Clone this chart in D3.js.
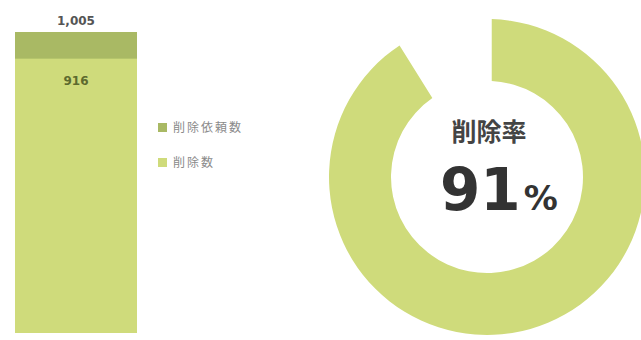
<!DOCTYPE html>
<html>
<head>
<meta charset="utf-8">
<script src="https://cdn.jsdelivr.net/npm/d3@7"></script>
<style>
  body { margin: 0; background: #fff; }
  svg { display: block; }
</style>
</head>
<body>
<div id="chart"></div>
<script>
// データ
const categories = ['削除依頼数', '削除数'];
const values = [1005, 916];
const colors = ['#a9b964', '#cfdb7b'];
const rateLabel = '削除率';

const width = 641, height = 340;
const svg = d3.select('#chart').append('svg')
    .attr('width', width)
    .attr('height', height);

// 棒グラフ（依頼数の上に削除数を重ねる）
const y = d3.scaleLinear().domain([0, values[0]]).range([333, 32]);
const x = d3.scaleBand().domain(['total']).range([15, 137]).padding(0);

categories.forEach((c, i) => {
    svg.append('rect')
        .attr('x', x('total'))
        .attr('y', y(values[i]))
        .attr('width', x.bandwidth())
        .attr('height', y(0) - y(values[i]))
        .attr('fill', colors[i]);
});

svg.append('text')
    .attr('x', x('total') + x.bandwidth() / 2)
    .attr('y', y(values[0]) - 7)
    .attr('text-anchor', 'middle')
    .style('font-family', 'DejaVu Sans, Verdana, sans-serif')
    .style('font-size', '12px')
    .style('font-weight', 'bold')
    .style('fill', '#555')
    .text(d3.format(',')(values[0]));

svg.append('text')
    .attr('x', x('total') + x.bandwidth() / 2)
    .attr('y', y(values[1]) + 26)
    .attr('text-anchor', 'middle')
    .style('font-family', 'DejaVu Sans, Verdana, sans-serif')
    .style('font-size', '12px')
    .style('font-weight', 'bold')
    .style('fill', '#5d6a2e')
    .text(d3.format(',')(values[1]));

// 凡例
const legend = svg.append('g').attr('transform', 'translate(158,123)');
categories.forEach((c, i) => {
    const g = legend.append('g').attr('transform', `translate(0,${i * 35})`);
    g.append('rect')
        .attr('width', 9).attr('height', 9)
        .attr('fill', colors[i]);
    g.append('text')
        .attr('x', 15).attr('y', 9)
        .style('font-family', 'Noto Sans CJK JP, sans-serif')
        .style('font-size', '12px')
        .style('letter-spacing', '2px')
        .style('fill', '#8a8a8a')
        .text(c);
});

// ドーナツ（削除率）
const rate = values[1] / values[0];
const cx = 487, cy = 177;
const pie = d3.pie().sort(null).value(d => d);
const arc = d3.arc().innerRadius(96).outerRadius(158)
    .padAngle(0.06).padRadius(158);
const donut = svg.append('g').attr('transform', `translate(${cx},${cy})`);
donut.selectAll('path')
    .data(pie([values[1], values[0] - values[1]]))
    .enter().append('path')
    .attr('d', arc)
    .attr('fill', (d, i) => i === 0 ? colors[1] : 'none');

donut.append('text')
    .attr('x', 2).attr('y', -36)
    .attr('text-anchor', 'middle')
    .style('font-family', 'Noto Sans CJK JP, sans-serif')
    .style('font-size', '25px')
    .style('font-weight', 'bold')
    .style('fill', '#444')
    .text(rateLabel);

const pct = donut.append('text')
    .attr('x', 440 - cx).attr('y', 33)
    .attr('text-anchor', 'start')
    .style('font-family', 'DejaVu Sans, Verdana, sans-serif')
    .style('font-weight', 'bold')
    .style('fill', '#333');
pct.append('tspan').style('font-size', '58px').text(Math.round(rate * 100));
pct.append('tspan').attr('dx', 3).style('font-size', '34px').text('%');
</script>
</body>
</html>
